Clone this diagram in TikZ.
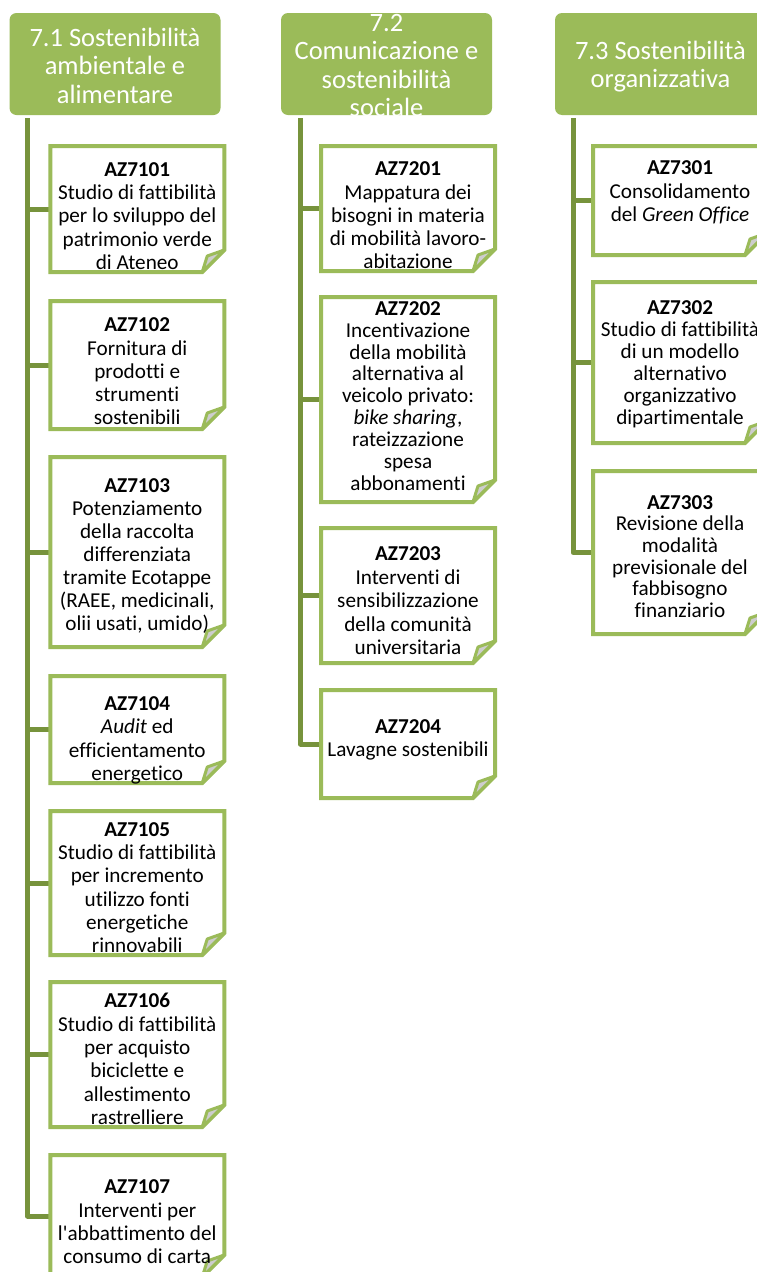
\documentclass[tikz,border=0pt]{standalone}
\usepackage{fontspec}
\setmainfont{Carlito}[Ligatures={TeXOff,NoCommon}]
\usetikzlibrary{calc}

\definecolor{leaf}{HTML}{9BBB59}
\definecolor{stem}{HTML}{77933C}
\definecolor{flap}{HTML}{CDCDCD}

\newcommand\fold{22pt}

\tikzset{
  header/.style={rectangle, rounded corners=7pt, fill=leaf, draw=none,
    minimum width=211pt, minimum height=102pt, inner sep=0pt, outer sep=0pt},
  headtext/.style={text=white, align=center, inner sep=0pt,
    font=\fontsize{26.5}{28.5}\selectfont},
  frame/.style={rectangle, minimum width=174pt, inner sep=0pt, outer sep=0pt},
  cardline/.style={draw=leaf, line width=4pt, fill=white, line join=miter},
  flapline/.style={draw=leaf, line width=3pt, fill=flap, line join=round},
  cardtext/.style={align=center, inner sep=0pt, text=black},
  stemline/.style={draw=stem, line width=5pt, line join=round},
}

% card: name, x, y, height, baselineskip, text shift, text
\newcommand\mkcard[7]{%
  \node[frame, minimum height=#4pt] (#1) at (#2,#3) {};
  \path[cardline] (#1.north west) -- (#1.north east)
    -- ([yshift=\fold]#1.south east) -- ([xshift=-\fold]#1.south east)
    -- (#1.south west) -- cycle;
  \path[flapline] ([yshift=\fold]#1.south east)
    -- ([xshift=-17pt,yshift=16pt]#1.south east)
    -- ([xshift=-\fold]#1.south east) -- cycle;
  \node[cardtext, font=\fontsize{21.2}{#5}\selectfont, yshift=#6] (#1t) at (#1.center) {#7};
}

\begin{document}
\begin{tikzpicture}[x=1pt, y=-1pt]
\clip (0,0) rectangle (757,1272);
\fill[white] (0,0) rectangle (757,1272);

% group headers
\node[header] (h71) at (115,64) {};
\node[header] (h72) at (386.5,64) {};
\node[header] (h73) at (660.5,64) {};
\coordinate (s71) at ([xshift=18pt,yshift=-3pt]h71.south west);
\coordinate (s72) at ([xshift=19.5pt,yshift=-3pt]h72.south west);
\coordinate (s73) at ([xshift=18pt,yshift=-3pt]h73.south west);

% card frames (empty nodes used for connectors)
\node[frame, minimum height=126pt] (c7101) at (137.25,209) {};
\node[frame, minimum height=128pt] (c7102) at (137.25,365) {};
\node[frame, minimum height=190pt] (c7103) at (137.25,552) {};
\node[frame, minimum height=107pt] (c7104) at (137.25,729.5) {};
\node[frame, minimum height=144pt] (c7105) at (137.25,883) {};
\node[frame, minimum height=145pt] (c7106) at (137.25,1054.5) {};
\node[frame, minimum height=122pt] (c7107) at (137.25,1216) {};
\node[frame, minimum height=125pt] (c7201) at (408,208.5) {};
\node[frame, minimum height=205pt] (c7202) at (408,399.5) {};
\node[frame, minimum height=135pt] (c7203) at (408,595.5) {};
\node[frame, minimum height=108pt] (c7204) at (408,744) {};
\node[frame, minimum height=109pt] (c7301) at (680,200.5) {};
\node[frame, minimum height=161pt] (c7302) at (680,362.5) {};
\node[frame, minimum height=163pt] (c7303) at (680,552.5) {};

% trunks and branches
\draw[stemline] (s71) |- (c7107.west);
\foreach \c in {c7101,c7102,c7103,c7104,c7105,c7106}
  \draw[stemline] (s71 |- \c.west) -- (\c.west);
\draw[stemline] (s72) |- (c7204.west);
\foreach \c in {c7201,c7202,c7203}
  \draw[stemline] (s72 |- \c.west) -- (\c.west);
\draw[stemline] (s73) |- (c7303.west);
\foreach \c in {c7301,c7302}
  \draw[stemline] (s73 |- \c.west) -- (\c.west);

% header texts
\node[headtext, yshift=-1.5pt] (h71t) at (h71.center) {7.1 Sostenibilità\\ambientale e\\alimentare};
\node[headtext, yshift=-1.5pt] (h72t) at (h72.center) {7.2\\Comunicazione e\\sostenibilità\\sociale};
\node[headtext, yshift=-2.5pt] (h73t) at (h73.center) {7.3 Sostenibilità\\organizzativa};

% cards
\mkcard{k7101}{137.25}{209}{126}{23.3}{-7pt}{\textbf{AZ7101}\\Studio di fattibilità\\per lo sviluppo del\\patrimonio verde\\di Ateneo}
\mkcard{k7102}{137.25}{365}{128}{23.3}{-6.5pt}{\textbf{AZ7102}\\Fornitura di\\prodotti e\\strumenti\\sostenibili}
\mkcard{k7103}{137.25}{552}{190}{23.0}{-4pt}{\textbf{AZ7103}\\Potenziamento\\della raccolta\\differenziata\\tramite Ecotappe\\(RAEE, medicinali,\\olii usati, umido)}
\mkcard{k7104}{137.25}{729.5}{107}{23.3}{-11pt}{\textbf{AZ7104}\\\textit{Audit} ed\\efficientamento\\energetico}
\mkcard{k7105}{137.25}{883}{144}{23.3}{-4.5pt}{\textbf{AZ7105}\\Studio di fattibilità\\per incremento\\utilizzo fonti\\energetiche\\rinnovabili}
\mkcard{k7106}{137.25}{1054.5}{145}{23.3}{-4.5pt}{\textbf{AZ7106}\\Studio di fattibilità\\per acquisto\\biciclette e\\allestimento\\rastrelliere}
\mkcard{k7107}{137.25}{1216}{122}{23.3}{-6pt}{\textbf{AZ7107}\\Interventi per\\l'abbattimento del\\consumo di carta}
\mkcard{k7201}{408}{208.5}{125}{23.3}{-7pt}{\textbf{AZ7201}\\Mappatura dei\\bisogni in materia\\di mobilità lavoro-\\abitazione}
\mkcard{k7202}{408}{399.5}{205}{21.9}{3.5pt}{\textbf{AZ7202}\\Incentivazione\\della mobilità\\alternativa al\\veicolo privato:\\\textit{bike sharing},\\rateizzazione\\spesa\\abbonamenti}
\mkcard{k7203}{408}{595.5}{135}{23.5}{-5.5pt}{\textbf{AZ7203}\\Interventi di\\sensibilizzazione\\della comunità\\universitaria}
\mkcard{k7204}{408}{744}{108}{22.5}{4pt}{\textbf{AZ7204}\\Lavagne sostenibili}
\mkcard{k7301}{680}{200.5}{109}{23.5}{8pt}{\textbf{AZ7301}\\Consolidamento\\del \textit{Green Office}}
\mkcard{k7302}{680}{362.5}{161}{22}{-2pt}{\textbf{AZ7302}\\Studio di fattibilità\\di un modello\\alternativo\\organizzativo\\dipartimentale}
\mkcard{k7303}{680}{552.5}{163}{21.7}{-4pt}{\textbf{AZ7303}\\Revisione della\\modalità\\previsionale del\\fabbisogno\\finanziario}
\end{tikzpicture}
\end{document}
